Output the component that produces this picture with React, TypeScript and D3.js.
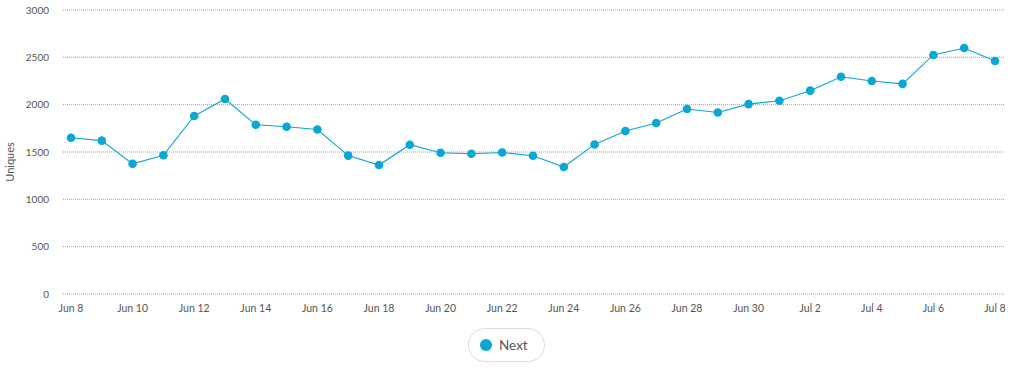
import * as d3 from 'd3';

const WIDTH = 1024;
const HEIGHT = 372;
const MARGIN = { top: 10, right: 29, bottom: 78, left: 71 } as const;

const START_DATE = new Date(2017, 5, 8);
const UNIQUES = [
  1650, 1620, 1375, 1465, 1880, 2060, 1788, 1767, 1738, 1462, 1362, 1577, 1492, 1481, 1495,
  1460, 1341, 1580, 1721, 1806, 1954, 1918, 2006, 2042, 2148, 2295, 2250, 2220, 2525, 2598,
  2462,
];
const Y_TICKS = [0, 500, 1000, 1500, 2000, 2500, 3000];
const SERIES_NAME = 'Next';
const COLOR = '#0aa6d4';
const FONT = 'Lato, "Open Sans", sans-serif';

const dates = UNIQUES.map((_, i) => d3.timeDay.offset(START_DATE, i));
const points = dates.map((date, i) => ({ date, value: UNIQUES[i] }));

export default function App() {
  const innerW = WIDTH - MARGIN.left - MARGIN.right;
  const innerH = HEIGHT - MARGIN.top - MARGIN.bottom;

  const x = d3
    .scaleTime()
    .domain([dates[0], dates[dates.length - 1]])
    .range([0, innerW]);
  const y = d3.scaleLinear().domain([0, 3000]).range([innerH, 0]);

  // label every other day
  const xTicks = dates.filter((_, i) => i % 2 === 0);
  const fmt = d3.timeFormat('%b %-d');

  const line = d3
    .line<{ date: Date; value: number }>()
    .x((d) => x(d.date))
    .y((d) => y(d.value));

  return (
    <svg
      width={WIDTH}
      height={HEIGHT}
      style={{ position: 'absolute', left: 0, top: 0, background: '#fff' }}
    >
      <g transform={`translate(${MARGIN.left},${MARGIN.top})`}>
        {/* dotted grid + y labels */}
        {Y_TICKS.map((t) => (
          <g key={t} transform={`translate(0,${y(t)})`}>
            <line
              x1={-8}
              x2={innerW + 10}
              stroke="#a0a0a0"
              strokeWidth={1}
              strokeDasharray="1 1"
            />
            <text
              x={-22}
              dy="0.35em"
              textAnchor="end"
              fontFamily={FONT}
              fontSize={10}
              fill="#555"
            >
              {t}
            </text>
          </g>
        ))}
        <text
          transform={`translate(${-57},${innerH / 2 + 10}) rotate(-90)`}
          textAnchor="middle"
          fontFamily={FONT}
          fontSize={11}
          fill="#555"
        >
          Uniques
        </text>

        {/* x labels */}
        {xTicks.map((d) => (
          <text
            key={d.toISOString()}
            x={x(d)}
            y={innerH + 18}
            textAnchor="middle"
            fontFamily={FONT}
            fontSize={10.5}
            fill="#555"
          >
            {fmt(d)}
          </text>
        ))}

        <path d={line(points) ?? ''} fill="none" stroke={COLOR} strokeWidth={1.1} />
        {points.map((p) => (
          <circle key={p.date.toISOString()} cx={x(p.date)} cy={y(p.value)} r={4.3} fill={COLOR} />
        ))}
      </g>

      {/* legend */}
      <g transform="translate(468,328)">
        <rect
          x={0.5}
          y={0.5}
          width={76}
          height={33}
          rx={16.5}
          fill="#fff"
          stroke="#dcdcdc"
        />
        <circle cx={18} cy={17} r={6} fill={COLOR} />
        <text x={31} y={17} dy="0.35em" fontFamily={FONT} fontSize={13.5} fill="#555">
          {SERIES_NAME}
        </text>
      </g>
    </svg>
  );
}
